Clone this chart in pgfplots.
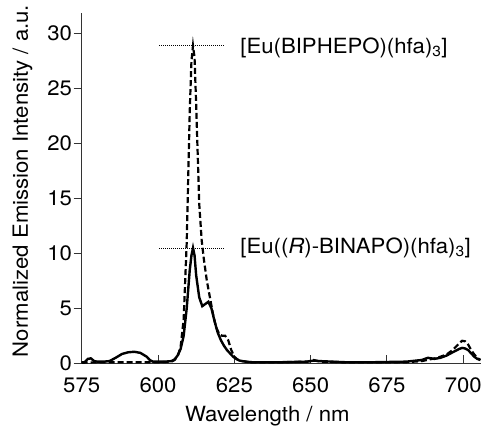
\documentclass[border=0pt]{standalone}
\usepackage{fontspec}
\setmainfont[FakeStretch=1.06]{TeX Gyre Heros}
\usepackage{pgfplots}
\pgfplotsset{compat=1.18}
\begin{document}
\begin{tikzpicture}
\path[use as bounding box] (-81.7bp,-64.7bp) rectangle (399.3bp,363.3bp);
\begin{axis}[
  at={(0,0)}, anchor=south west,
  scale only axis, width=399.3bp, height=350.6bp,
  xmin=575, xmax=705.8, ymin=0, ymax=31.9,
  axis x line*=bottom, axis y line*=left,
  axis line style={line width=1.2bp, color=black!80},
  every tick/.style={line width=1bp, color=black!80},
  xtick={575,600,625,650,675,700},
  ytick={0,5,10,15,20,25,30},
  xtick align=inside, ytick align=outside,
  major tick length=8bp,
  font=\fontsize{21}{25}\selectfont,
  /pgf/number format/assume math mode=true,
  /pgf/number format/1000 sep={},
  xticklabel style={yshift=-11bp},
  yticklabel style={inner sep=1.5bp},
  xlabel={Wavelength / nm},
  ylabel={Normalized Emission Intensity / a.u.},
  every axis x label/.style={at={(axis description cs:0.465,-0.152)}, anchor=center},
  every axis y label/.style={at={(axis description cs:-0.148,0.52)}, rotate=90, anchor=center},
  clip=false,
]
% [Eu(BIPHEPO)(hfa)3] (dashed)
\addplot[black, line width=2.2bp, dash pattern=on 6bp off 3bp] coordinates {
(575,0.05)(580.1,0.1)(585.1,0.1)(590.2,0.1)(595.3,0.1)(600.3,0.1)(604.4,0.15)(605.4,0.3)(606.4,0.6)(607.4,1.5)(608.4,4)(609.4,11)(609.9,17)(610.4,23)(610.95,27.5)(611.46,28.9)(611.97,27.8)(612.5,23.5)(613,19)(613.5,14.5)(614.3,11.2)(615,9.5)(616,7.5)(617,6.0)(618,4.5)(619,3.3)(620,2.7)(621,2.5)(622,2.5)(623,2.1)(624,1.2)(625,0.6)(626,0.35)(627.5,0.2)(630.7,0.1)(640.8,0.1)(648.9,0.15)(651,0.3)(653,0.15)(661.1,0.1)(671.2,0.1)(681.3,0.1)(686.4,0.2)(691.5,0.5)(694.5,0.8)(696.5,1.2)(698.6,1.8)(699.6,2.05)(700.6,2.0)(701.6,1.7)(702.6,1.2)(703.6,0.8)(704.6,0.5)(705.6,0.3)
};
% [Eu((R)-BINAPO)(hfa)3] (solid)
\addplot[black, line width=2.4bp] coordinates {
(575,0.1)(576,0.1)(577,0.4)(578,0.45)(579.1,0.2)(580.1,0.15)(582.1,0.15)(584.1,0.2)(586.1,0.5)(588.2,0.85)(590.2,1.0)(592.2,1.05)(594.2,0.95)(596.3,0.6)(597.3,0.3)(598.3,0.15)(600.3,0.15)(602.3,0.15)(604.4,0.2)(605.4,0.35)(606.4,0.7)(607.4,1.3)(608.4,2.5)(609.4,5.0)(610.4,8.5)(610.95,9.8)(611.46,10.5)(611.97,9.8)(612.5,8.0)(613.5,6.0)(614.5,5.2)(615.5,5.4)(616.5,5.6)(617.5,5.0)(618.55,3.8)(619.55,2.8)(620.6,2.1)(621.6,1.6)(622.6,1.2)(623.6,0.9)(624.6,0.6)(625.6,0.4)(626.65,0.25)(628.7,0.15)(630.7,0.1)(640.8,0.1)(648.9,0.15)(651,0.25)(653,0.2)(661.1,0.1)(671.2,0.1)(681.3,0.15)(686.4,0.3)(688.4,0.5)(690.5,0.4)(692.5,0.5)(694.5,0.7)(696.5,1.0)(698.6,1.3)(699.6,1.4)(700.6,1.35)(701.6,1.2)(702.6,0.9)(703.6,0.6)(704.6,0.4)(705.6,0.3)
};
% dotted markers
\addplot[black, line width=1bp, dash pattern=on 1bp off 1bp] coordinates {(600.4,28.9)(621.6,28.9)};
\addplot[black, line width=1bp, dash pattern=on 1bp off 1bp] coordinates {(600.4,10.45)(621.6,10.45)};
\node[anchor=west, inner sep=0pt] at (axis cs:626.9,28.7) {[Eu(BIPHEPO)(hfa)\textsubscript{3}]};
\node[anchor=west, inner sep=0pt] at (axis cs:626.9,10.5) {[Eu((\textit{R})-BINAPO)(hfa)\textsubscript{3}]};
\end{axis}
\end{tikzpicture}
\end{document}
